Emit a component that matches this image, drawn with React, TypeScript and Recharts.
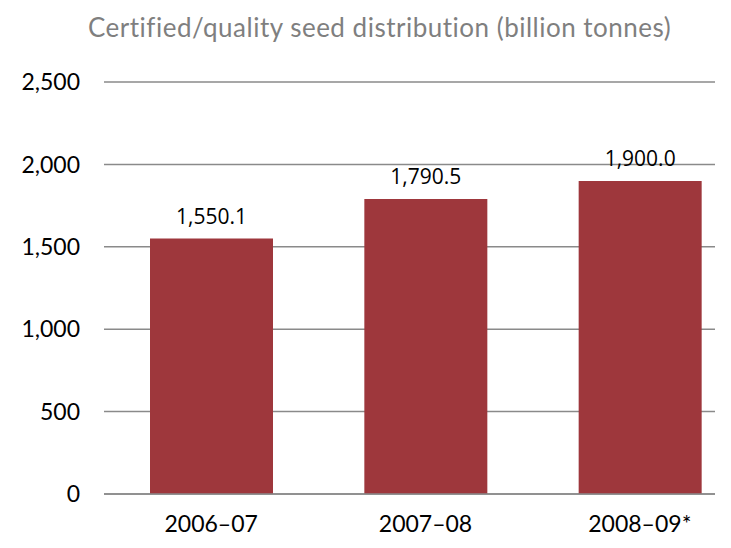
import { BarChart, Bar, XAxis, YAxis, CartesianGrid, LabelList } from 'recharts';

const periods = ['2006–07', '2007–08', '2008–09*'];
const seedValues = [1550.1, 1790.5, 1900.0];
const yTicks = [0, 500, 1000, 1500, 2000, 2500];

const data = periods.map((period, i) => ({ period, value: seedValues[i] }));

const fmt = (v: number) => v.toLocaleString('en-US');
const fmtLabel = (v: number) =>
  v.toLocaleString('en-US', { minimumFractionDigits: 1, maximumFractionDigits: 1 });

export default function App() {
  return (
    <div style={{ position: 'relative', width: 707, height: 540, overflow: 'hidden', background: '#fff' }}>
      <div
        style={{
          position: 'absolute',
          top: 3,
          left: 80,
          fontFamily: 'Lato, sans-serif',
          fontSize: 26,
          letterSpacing: 0.5,
          color: '#7f7f7f',
          whiteSpace: 'nowrap',
        }}
      >
        Certified/quality seed distribution (billion tonnes)
      </div>
      <BarChart
        width={739}
        height={540}
        data={data}
        margin={{ top: 74, right: 0, bottom: 0, left: 0 }}
        barCategoryGap={0}
      >
        <CartesianGrid vertical={false} stroke="#8a8a8a" strokeWidth={1.5} />
        <YAxis
          width={96}
          domain={[0, 2500]}
          ticks={yTicks}
          tickFormatter={fmt}
          axisLine={false}
          tickLine={false}
          tickMargin={18}
          tick={{ fill: '#000', fontSize: 23, fontFamily: 'Lato, sans-serif' }}
        />
        <XAxis
          dataKey="period"
          height={54}
          axisLine={{ stroke: '#8a8a8a', strokeWidth: 1.5 }}
          tickLine={false}
          tickMargin={16}
          tick={{ fill: '#000', fontSize: 23, fontFamily: 'Lato, sans-serif' }}
        />
        <Bar dataKey="value" fill="#9e373c" barSize={123} isAnimationActive={false}>
          <LabelList
            dataKey="value"
            position="top"
            offset={15}
            formatter={(v: number) => fmtLabel(v)}
            style={{ fill: '#000', fontSize: 21, fontFamily: '"Open Sans", sans-serif' }}
          />
        </Bar>
      </BarChart>
    </div>
  );
}
